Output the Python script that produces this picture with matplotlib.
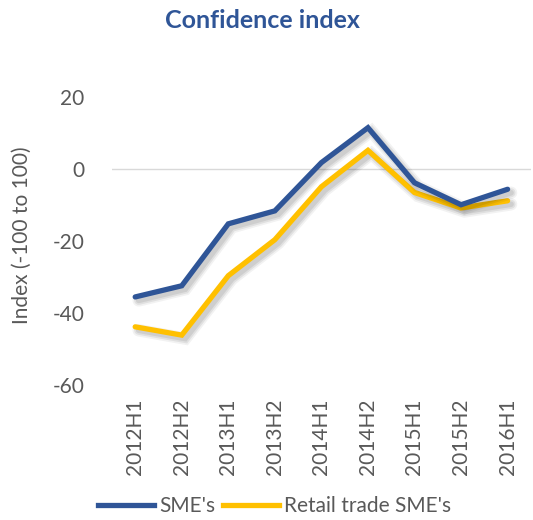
import matplotlib
matplotlib.use("Agg")
import matplotlib.pyplot as plt
import matplotlib.patheffects as pe
from matplotlib.lines import Line2D

categories = ["2012H1", "2012H2", "2013H1", "2013H2", "2014H1", "2014H2", "2015H1", "2015H2", "2016H1"]
sme = [-35.6, -32.5, -15.3, -11.7, 1.7, 11.4, -3.9, -10.0, -5.7]
retail = [-43.9, -46.2, -29.7, -19.7, -5.0, 5.1, -6.6, -10.9, -8.9]
yticks = [-60, -40, -20, 0, 20]

plt.rcParams['font.family'] = ['Lato', 'DejaVu Sans']
grey = '#595959'
blue = '#2F5597'
yellow = '#FFC000'

fig = plt.figure(figsize=(5.33, 5.2), dpi=100)
ax = fig.add_axes([0.21, 0.26, 0.786, 0.554])

x = list(range(len(categories)))
shadow = [pe.SimpleLineShadow(offset=(2.5, -2.5), shadow_color='black', alpha=0.05, linewidth=9),
          pe.SimpleLineShadow(offset=(2.5, -2.5), shadow_color='black', alpha=0.07, linewidth=6.5),
          pe.SimpleLineShadow(offset=(2.5, -2.5), shadow_color='black', alpha=0.08, linewidth=4),
          pe.Normal()]
ax.axhline(0, color='#d9d9d9', lw=1, zorder=1)
ax.plot(x, sme, color=blue, lw=3.8, solid_capstyle='round', solid_joinstyle='miter', path_effects=shadow, zorder=3)
ax.plot(x, retail, color=yellow, lw=3.8, solid_capstyle='round', solid_joinstyle='miter', path_effects=shadow, zorder=2)

ax.set_xlim(-0.5, len(categories) - 0.5)
ax.set_ylim(-60, 20)
ax.set_yticks(yticks)
ax.set_yticklabels([str(v) for v in yticks], color=grey, fontsize=15)
ax.set_xticks(x)
ax.set_xticklabels(categories, rotation=90, color=grey, fontsize=15)
ax.tick_params(length=0, pad=20, axis='y')
ax.tick_params(length=0, pad=10, axis='x')
for s in ax.spines.values():
    s.set_visible(False)

ax.set_ylabel("Index (-100 to 100)", color=grey, fontsize=15)
ax.yaxis.set_label_coords(-0.19, 0.52)

fig.text(0.492, 0.96, "Confidence index", ha='center', va='center', fontsize=18, fontweight='bold', color=blue)

handles = [Line2D([], [], color=blue, lw=3.8), Line2D([], [], color=yellow, lw=3.8)]
leg = fig.legend(handles, ["SME's", "Retail trade SME's"], loc='center', bbox_to_anchor=(0.515, 0.027), ncol=2,
                 frameon=False, fontsize=15, handlelength=2.7, handletextpad=0.25, columnspacing=0.35, labelcolor=grey)

fig.savefig("out.png", dpi=100)
